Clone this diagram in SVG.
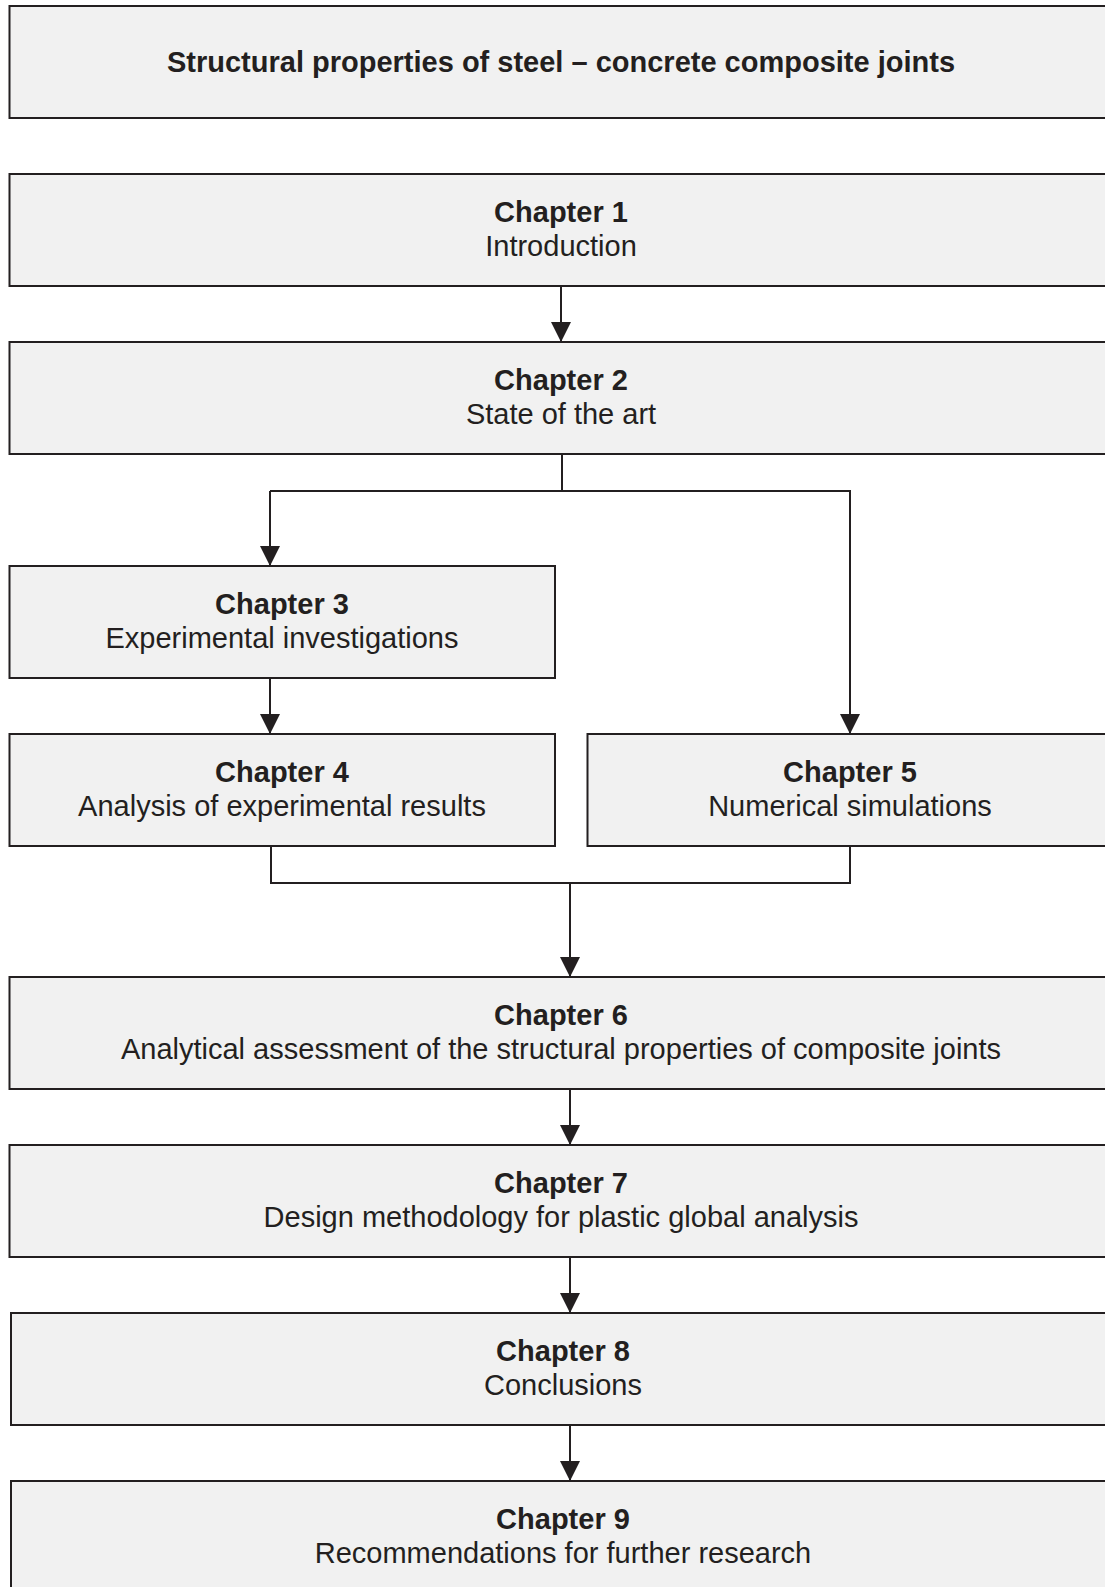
<svg xmlns="http://www.w3.org/2000/svg" width="1105" height="1587" viewBox="0 0 1105 1587">
<style>
.box{fill:#f1f1f1;stroke:#231f20;stroke-width:2}
.t{font-family:"Liberation Sans",Arial,sans-serif;font-size:29px;fill:#231f20;text-anchor:middle}
.b{font-weight:bold}
.h{font-size:29px}
.c{fill:none;stroke:#231f20;stroke-width:2}
</style>
<defs>
<marker id="ah" markerUnits="userSpaceOnUse" markerWidth="20" markerHeight="20" viewBox="0 0 18 18" refX="18" refY="9" orient="auto">
<path d="M0,0 L18,9 L0,18 Z" fill="#231f20"/>
</marker>
</defs>
<rect width="1105" height="1587" fill="#ffffff"/>
<g id="title"><rect class="box" x="9.5" y="6" width="1110" height="112"/><text class="t b h" x="561" y="71.5">Structural properties of steel – concrete composite joints</text></g>
<g id="ch1"><rect class="box" x="9.5" y="174" width="1110" height="112"/><text class="t b" x="561" y="222">Chapter 1</text><text class="t" x="561" y="256">Introduction</text></g>
<g id="ch2"><rect class="box" x="9.5" y="342" width="1110" height="112"/><text class="t b" x="561" y="390">Chapter 2</text><text class="t" x="561" y="424">State of the art</text></g>
<g id="ch3"><rect class="box" x="9.5" y="566" width="545.5" height="112"/><text class="t b" x="282" y="614">Chapter 3</text><text class="t" x="282" y="648">Experimental investigations</text></g>
<g id="ch4"><rect class="box" x="9.5" y="734" width="545.5" height="112"/><text class="t b" x="282" y="782">Chapter 4</text><text class="t" x="282" y="816">Analysis of experimental results</text></g>
<g id="ch5"><rect class="box" x="587.5" y="734" width="530" height="112"/><text class="t b" x="850" y="782">Chapter 5</text><text class="t" x="850" y="816">Numerical simulations</text></g>
<g id="ch6"><rect class="box" x="9.5" y="977" width="1110" height="112"/><text class="t b" x="561" y="1025">Chapter 6</text><text class="t" x="561" y="1059">Analytical assessment of the structural properties of composite joints</text></g>
<g id="ch7"><rect class="box" x="9.5" y="1145" width="1110" height="112"/><text class="t b" x="561" y="1193">Chapter 7</text><text class="t" x="561" y="1227">Design methodology for plastic global analysis</text></g>
<g id="ch8"><rect class="box" x="11" y="1313" width="1110" height="112"/><text class="t b" x="563" y="1361">Chapter 8</text><text class="t" x="563" y="1395">Conclusions</text></g>
<g id="ch9"><rect class="box" x="11" y="1481" width="1110" height="112"/><text class="t b" x="563" y="1529">Chapter 9</text><text class="t" x="563" y="1563">Recommendations for further research</text></g>
<g id="connectors">
<line class="c" x1="561" y1="286" x2="561" y2="342" marker-end="url(#ah)"/>
<polyline class="c" points="562,454 562,491"/>
<polyline class="c" points="270,491 850,491 850,734" marker-end="url(#ah)"/>
<line class="c" x1="270" y1="491" x2="270" y2="566" marker-end="url(#ah)"/>
<line class="c" x1="270" y1="678" x2="270" y2="734" marker-end="url(#ah)"/>
<polyline class="c" points="271,846 271,883 850,883 850,846"/>
<line class="c" x1="570" y1="883" x2="570" y2="977" marker-end="url(#ah)"/>
<line class="c" x1="570" y1="1089" x2="570" y2="1145" marker-end="url(#ah)"/>
<line class="c" x1="570" y1="1257" x2="570" y2="1313" marker-end="url(#ah)"/>
<line class="c" x1="570" y1="1425" x2="570" y2="1481" marker-end="url(#ah)"/>
</g>
</svg>
